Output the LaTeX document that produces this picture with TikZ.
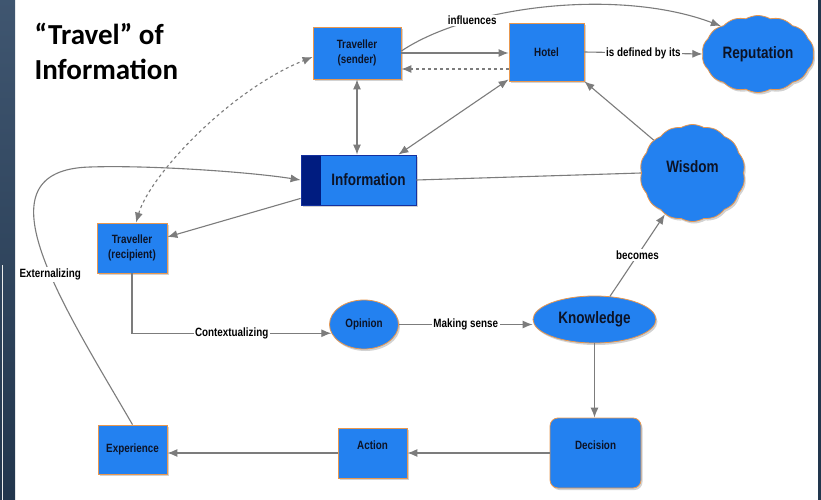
\documentclass[tikz,border=0pt]{standalone}
\usepackage{fontspec}
\usepackage{tikz}
\usetikzlibrary{arrows.meta,shapes.symbols,shapes.geometric,shadows}
\newfontfamily\cmapfont[FakeStretch=0.82]{Liberation Sans}
\newfontfamily\titlefont{Carlito}
\definecolor{nodeblue}{HTML}{2381F0}
\definecolor{nodeedge}{HTML}{E8974E}
\definecolor{nodetext}{HTML}{0C1326}
\definecolor{infoedge}{HTML}{14309E}
\definecolor{infobar}{HTML}{001C80}
\definecolor{linkgray}{HTML}{7C7C7C}
\definecolor{slidedark}{HTML}{2A4360}

\begin{document}
\begin{tikzpicture}[
      x=1pt,y=-1pt,
      >={Latex[length=10pt,width=8pt]},
      box/.style={
        draw=nodeedge,fill=nodeblue,line width=0.8pt,inner sep=2pt,
        text=nodetext,align=center,
        font=\cmapfont\bfseries\fontsize{12}{15}\selectfont,
        drop shadow={shadow xshift=1.5pt,shadow yshift=-2pt,opacity=0.35}
      },
      oval/.style={box,ellipse},
      cloudy/.style={
        box,cloud,cloud puffs=14,cloud puff arc=60,cloud ignores aspect
      },
      big/.style={font=\cmapfont\bfseries\fontsize{16.5}{19}\selectfont},
      infobox/.style={
        box,big,draw=infoedge,
        path picture={\fill[infobar] (path picture bounding box.north west)
          rectangle ([xshift=20pt]path picture bounding box.south west);}
      },
      link/.style={draw=linkgray,line width=1.1pt},
      lbl/.style={
        fill=white,inner sep=1.5pt,text=black,
        font=\cmapfont\bfseries\fontsize{12}{14}\selectfont
      },
    ]
    % slide frame
    \useasboundingbox (0,0) rectangle (821,500);
    \fill[white] (0,0) rectangle (821,500);
    \shade[top color=slidedark!90!white,bottom color=slidedark!80!black] (0,0) rectangle (15,500);
    \draw[white!85!gray,line width=1pt] (2.5,265) -- (2.5,500);
    \fill[slidedark!80!black] (818,0) rectangle (821,500);

    \node[anchor=north west,align=left,
      font=\titlefont\bfseries\fontsize{29}{35}\selectfont] (ttl) at (31,20) {“Travel” of\\Information};

    \node[box,minimum width=88pt,minimum height=52pt] (snd) at (357,53) {Traveller\\(sender)};
    \node[box,minimum width=75pt,minimum height=58pt] (hot) at (546.5,52) {Hotel};
    \node[cloudy,big,minimum width=112pt,minimum height=77pt] (rep) at (758,54) {Reputation};
    \node[infobox,minimum width=115pt,minimum height=50pt] (inf) at (358.5,180) {\hspace*{20pt}Information};
    \node[cloudy,big,minimum width=105pt,minimum height=97pt,
      text height=12pt,text depth=14pt] (wis) at (692.5,173) {Wisdom};
    \node[box,minimum width=70pt,minimum height=50pt] (rcp) at (132,248) {Traveller\\(recipient)};
    \node[oval,minimum width=69pt,minimum height=49pt] (opi) at (364,324.5) {Opinion};
    \node[oval,big,minimum width=123pt,minimum height=47pt] (kno) at (594.5,319.5) {Knowledge};
    \node[box,rounded corners=8pt,minimum width=91pt,minimum height=70pt,
      text height=9pt,text depth=17pt] (dec) at (595.5,453) {Decision};
    \node[box,minimum width=69pt,minimum height=50pt,
      text height=9pt,text depth=17pt] (act) at (372.5,453) {Action};
    \node[box,minimum width=69pt,minimum height=49pt] (exper) at (132.5,449.5) {Experience};

    \draw[link,->] (snd.east) -- (snd.east -| hot.west);
    \draw[link,->,dashed] ([yshift=-17pt]hot.west) -- ([yshift=-17pt]hot.west -| snd.east);
    \draw[link,->] ([yshift=2pt]snd.east) .. controls (470,5) and (620,-12) ..
      node[lbl,pos=0.27] {influences} (rep.143);
    \draw[link,->] (hot.east) -- node[lbl] {is defined by its} (rep.west);
    \draw[link,<->] (snd.south) -- (snd.south |- inf.north);
    \draw[link,<->] ([xshift=-18pt]inf.north east) -- ([yshift=2pt]hot.south west);
    \draw[link,->] (wis) -- (hot.south east);
    \draw[link] (inf.east) -- (wis.west);
    \draw[link,->] ([yshift=7pt]inf.south west) -- ([yshift=11pt]rcp.east);
    \draw[link,<->,dashed] ([xshift=4pt]rcp.north) .. controls (150,175) and (230,90) ..
      ([yshift=-4pt]snd.west);
    \draw[link,->] (exper.north) .. controls (60,300) and (-25,170) ..
      node[lbl,pos=0.42] {Externalizing} (90,167)
      .. controls (150,165) and (250,172) .. (inf.west);
    \draw[link,->] (rcp.south) |- node[lbl,pos=0.75] {Contextualizing} (opi.195);
    \draw[link,->] (opi.east) -- node[lbl] {Making sense} (opi.east -| kno.west);
    \draw[link,->] (kno) -- node[lbl] {becomes} (wis);
    \draw[link,->] (kno.south) -- (kno.south |- dec.north);
    \draw[link,->] (dec.west) -- (dec.west -| act.east);
    \draw[link,->] (act.west) -- (act.west -| exper.east);
  \end{tikzpicture}
\end{document}
